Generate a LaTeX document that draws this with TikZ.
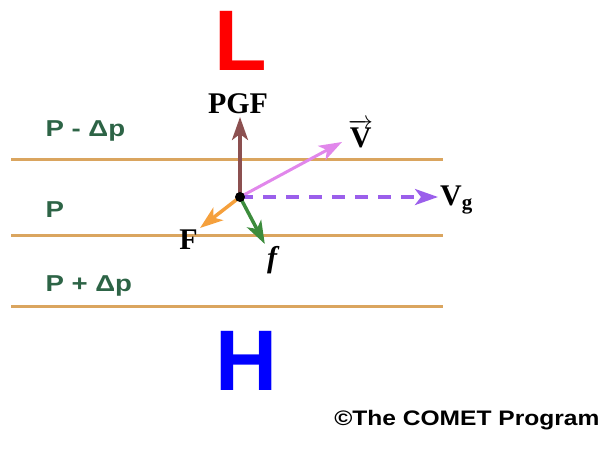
\documentclass[tikz,border=0pt]{standalone}
\usepackage{fontspec}
\usepackage{graphicx}
\setmainfont{Liberation Serif}
\setsansfont{Liberation Sans}
\usetikzlibrary{arrows.meta}
\definecolor{isobar}{RGB}{218,165,95}
\definecolor{plabel}{RGB}{45,100,70}
\definecolor{pgfcol}{RGB}{140,80,80}
\definecolor{windcol}{RGB}{225,135,235}
\definecolor{geocol}{RGB}{155,95,235}
\definecolor{fcol}{RGB}{245,160,60}
\definecolor{fric}{RGB}{60,140,60}

\tikzset{
  isoline/.style={isobar, line width=3pt},
  plab/.style={anchor=west, text=plabel, font=\sffamily\bfseries\fontsize{23}{23}\selectfont},
  vec/.style={line width=3.5pt, -{Stealth[length=23pt,width=16pt,inset=6pt]}},
  vlab/.style={font=\bfseries\fontsize{30}{30}\selectfont},
  big/.style={font=\sffamily\bfseries\fontsize{86}{86}\selectfont}
}
\newcommand{\widen}[1]{\scalebox{1.2}[1]{#1}}

\begin{document}
\begin{tikzpicture}[x=1pt,y=-1pt]
    \useasboundingbox (0,0) rectangle (603,451);

    % Isobars
    \draw[isoline] (11,159) -- (443,159);
    \draw[isoline] (11,235) -- (443,235);
    \draw[isoline] (11,306) -- (443,306);
    \node[plab] (pm) at (42,131) {\widen{P - Δp}};
    \node[plab] (p0) at (42,210) {\widen{P}};
    \node[plab] (pp) at (42,286) {\widen{P + Δp}};

    % Low and high
    \node[big, text=red] (low) at (241,41) {L};
    \node[big, text=blue] (high) at (247,361) {H};

    % Force balance
    \coordinate (o) at (240,197);
    \node[vlab, anchor=south] (pgf) at (238,117) {PGF};
    \node[vlab, anchor=base west, inner sep=1pt] (wind) at (347,147) {$\overrightarrow{\mathbf{V}}$};
    \node[vlab, anchor=west, inner sep=2pt] (vg) at (438,200) {V$_{\mathbf{g}}$};
    \node[vlab, anchor=north east, inner sep=2pt] (fco) at (200,228) {F};
    \node[vlab, anchor=north, inner sep=2pt, font=\bfseries\itshape\fontsize{30}{30}\selectfont] (fr) at (272,244) {f};
    \coordinate (vtip) at (342,142);

    \draw[vec, pgfcol] (o) -- (o |- pgf.south);
    \draw[vec, windcol, line width=3pt] (o) -- (vtip);
    \draw[vec, geocol, dash pattern=on 13pt off 10pt] (o) -- (o -| vg.west);
    \draw[vec, fcol] (o) -- (fco.north east);
    \draw[vec, fric] (o) -- (fr.north west);
    \fill (o) circle (5pt);

    % Credit
    \node[anchor=east, font=\sffamily\bfseries\fontsize{21}{21}\selectfont] (credit) at (603,420) {\scalebox{1.17}[1]{\textcopyright The COMET Program}};
\end{tikzpicture}
\end{document}
